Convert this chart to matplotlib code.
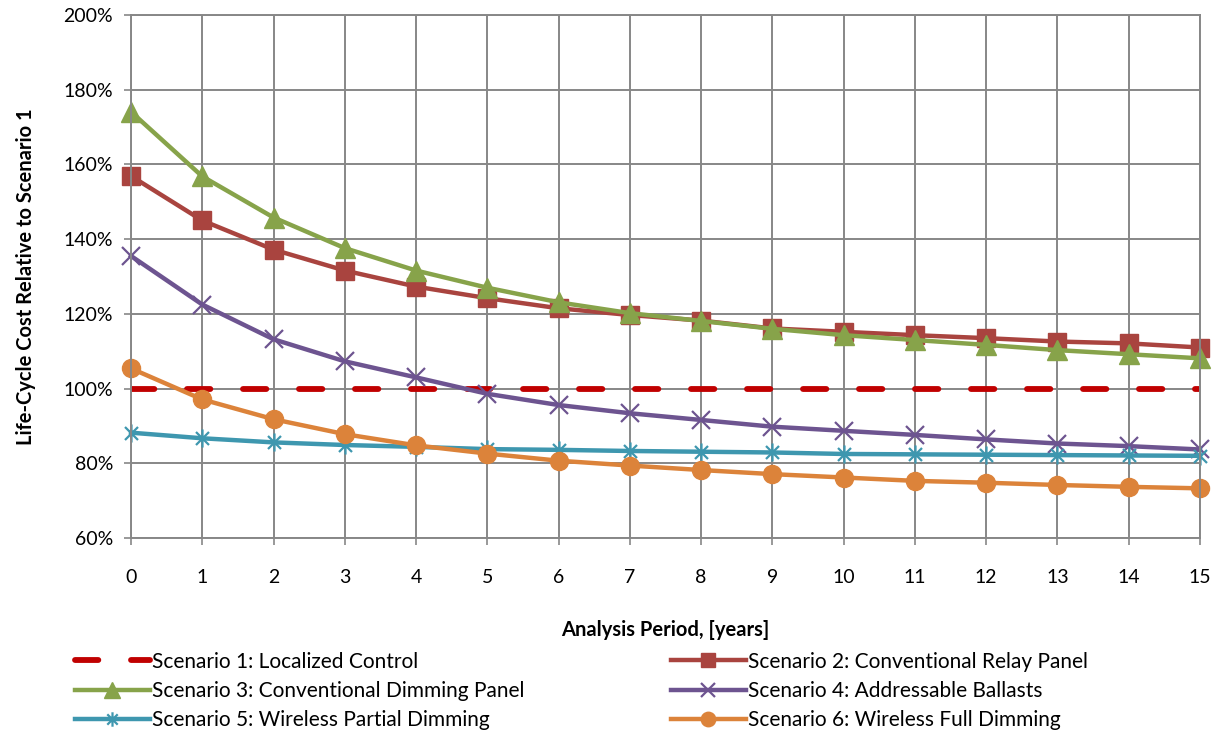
import numpy as np
import matplotlib
matplotlib.use('Agg')
import matplotlib.pyplot as plt
from matplotlib.path import Path
from matplotlib.ticker import FuncFormatter

matplotlib.rcParams['font.family'] = ['Lato', 'DejaVu Sans']

years = np.arange(0, 16)
s1 = [100] * 16
s2 = [156.9, 145.0, 137.2, 131.6, 127.3, 124.2, 121.5, 119.7, 118.2, 116.1, 115.2, 114.3, 113.5, 112.6, 112.1, 111.0]
s3 = [174.1, 156.8, 145.8, 137.6, 131.6, 127.0, 123.1, 120.2, 118.1, 116.0, 114.3, 113.0, 111.7, 110.3, 109.2, 108.1]
s4 = [135.5, 122.5, 113.2, 107.3, 103.0, 98.6, 95.6, 93.4, 91.6, 89.8, 88.7, 87.6, 86.4, 85.3, 84.6, 83.7]
s5 = [88.2, 86.7, 85.6, 84.9, 84.4, 83.8, 83.6, 83.3, 83.1, 82.9, 82.5, 82.4, 82.3, 82.2, 82.1, 82.0]
s6 = [105.4, 97.1, 91.8, 87.8, 84.8, 82.6, 80.7, 79.4, 78.2, 77.1, 76.2, 75.3, 74.8, 74.2, 73.7, 73.3]

labels = ['Scenario 1: Localized Control',
          'Scenario 2: Conventional Relay Panel',
          'Scenario 3: Conventional Dimming Panel',
          'Scenario 4: Addressable Ballasts',
          'Scenario 5: Wireless Partial Dimming',
          'Scenario 6: Wireless Full Dimming']

# asterisk marker like Excel's: vertical bar plus an X
star = Path([(0, -1), (0, 1), (-0.72, -0.72), (0.72, 0.72), (-0.72, 0.72), (0.72, -0.72)],
            [Path.MOVETO, Path.LINETO] * 3)

fig = plt.figure(figsize=(12.21, 7.33), dpi=100)
ax = fig.add_axes([0.1073, 0.266, 0.8755, 0.7135])

lw = 3.2
h1, = ax.plot(years, s1, color='#C00000', lw=4.2, dashes=(4.0, 5.6), dash_capstyle='round', label=labels[0])
h2, = ax.plot(years, s2, color='#A9443F', lw=lw, marker='s', ms=13, clip_on=False, label=labels[1])
h3, = ax.plot(years, s3, color='#87A34A', lw=lw, marker='^', ms=14, clip_on=False, label=labels[2])
h4, = ax.plot(years, s4, color='#6D5490', lw=lw, marker='x', ms=13, mew=1.6, clip_on=False, label=labels[3])
h5, = ax.plot(years, s5, color='#3E97AF', lw=lw, marker=star, ms=13, mew=1.6, clip_on=False, label=labels[4])
h6, = ax.plot(years, s6, color='#DC833A', lw=lw, marker='o', ms=13, clip_on=False, label=labels[5])

ax.set_xlim(0, 15)
ax.set_ylim(60, 200)
ax.set_xticks(years)
ax.set_yticks(np.arange(60, 201, 20))
ax.yaxis.set_major_formatter(FuncFormatter(lambda v, p: f'{v:.0f}%'))
ax.grid(True, color='#878787', lw=1.4)
ax.set_axisbelow(True)
for sp in ax.spines.values():
    sp.set_color('#878787')
    sp.set_linewidth(1.4)
ax.tick_params(colors='#878787', labelcolor='black', labelsize=14, length=5, width=1.2)
ax.tick_params(axis='x', pad=17)
ax.tick_params(axis='y', pad=8)

ax.set_xlabel('Analysis Period, [years]', fontsize=14.5, fontweight='bold', labelpad=25)
ax.set_ylabel('Life-Cycle Cost Relative to Scenario 1', fontsize=14.5, fontweight='bold', labelpad=20)

# legend is read row by row in the original, matplotlib fills columns first
handles = [h1, h3, h5, h2, h4, h6]
fig.legend(handles, [h.get_label() for h in handles], ncol=2, loc='lower left',
           bbox_to_anchor=(0.046, -0.022), frameon=False, fontsize=15,
           handlelength=3.6, handletextpad=0.12, columnspacing=7.0, labelspacing=0.45,
           markerscale=0.8)

fig.savefig('out.png', dpi=100)
